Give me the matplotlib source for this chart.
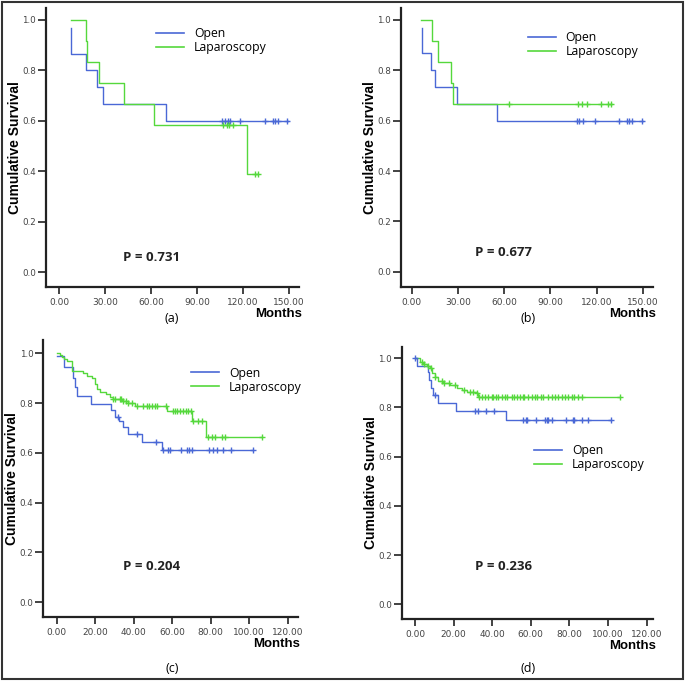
import numpy as np
import matplotlib
matplotlib.use("Agg")
import matplotlib.pyplot as plt
from matplotlib.patches import Rectangle

W, H = 685, 681

# ---------------------------------------------------------------------------
# Kaplan-Meier curves (step times / survival levels)
# ---------------------------------------------------------------------------
# (a)
a_open_t = [7.8, 7.8, 17.6, 24.6, 28.4, 69.6, 149.0]
a_open_s = [0.967, 0.867, 0.800, 0.733, 0.667, 0.600, 0.600]
a_open_c = [106.3, 108.3, 110.0, 111.5, 118.3, 134.6, 139.6, 141.1, 142.6, 148.9]
a_lap_t = [7.6, 17.6, 18.3, 26.1, 42.6, 62.2, 122.4, 130.0]
a_lap_s = [1.0, 0.917, 0.833, 0.750, 0.667, 0.583, 0.389, 0.389]
a_lap_c = [106.7, 109.3, 110.9, 113.3, 127.5, 129.5]

# (b)
b_open_t = [6.5, 6.5, 12.3, 15.2, 29.7, 55.2, 150.0]
b_open_s = [0.967, 0.867, 0.800, 0.733, 0.667, 0.600, 0.600]
b_open_c = [107.1, 108.9, 111.0, 118.8, 134.8, 139.6, 141.3, 142.9, 149.4]
b_lap_t = [6.1, 13.2, 17.3, 25.5, 26.6, 130.3]
b_lap_s = [1.0, 0.917, 0.833, 0.750, 0.667, 0.667]
b_lap_c = [63.2, 108.2, 110.4, 113.6, 122.7, 127.7, 129.2]

# (c)
c_open_t = [0.3, 3.9, 8.3, 9.5, 10.5, 17.6, 28.0, 30.2, 32.3, 34.5, 37.2, 44.2, 54.9, 102.2]
c_open_s = [0.990, 0.944, 0.900, 0.865, 0.828, 0.796, 0.772, 0.742, 0.729, 0.703, 0.676,
            0.645, 0.611, 0.611]
c_open_c = [32.0, 41.6, 51.4, 55.4, 58.0, 58.9, 64.4, 67.9, 68.7, 70.1, 79.3, 81.4, 83.1,
            86.2, 90.6, 102.2]
c_lap_t = [0.3, 1.7, 2.6, 4.0, 5.2, 7.8, 13.5, 15.9, 18.2, 19.9, 21.1, 22.5, 25.6, 27.7,
           29.1, 33.7, 37.2, 40.7, 57.1, 70.1, 77.4, 106.5]
c_lap_s = [1.0, 0.993, 0.987, 0.977, 0.968, 0.930, 0.920, 0.910, 0.901, 0.877, 0.857, 0.843,
           0.836, 0.826, 0.816, 0.810, 0.799, 0.790, 0.769, 0.729, 0.662, 0.662]
c_lap_c = [29.4, 30.3, 32.9, 33.4, 34.6, 36.0, 37.2, 38.9, 41.9, 45.0, 46.8, 48.0, 49.4,
           51.1, 52.3, 56.8, 60.3, 61.5, 62.7, 64.1, 65.5, 67.0, 68.4, 69.6, 71.0, 73.6,
           75.3, 78.8, 80.5, 82.3, 85.7, 87.4, 106.5]

# (d)
d_open_t = [0.0, 0.9, 6.9, 7.4, 8.1, 9.5, 11.7, 21.2, 47.0, 101.4]
d_open_s = [1.0, 0.969, 0.946, 0.912, 0.878, 0.851, 0.817, 0.786, 0.747, 0.747]
d_open_c = [0.2, 10.4, 31.1, 32.8, 36.8, 41.1, 56.1, 57.3, 57.9, 62.7, 67.4, 68.2, 69.1,
            71.2, 78.2, 81.7, 82.4, 86.4, 89.8, 101.4]
d_lap_t = [0.0, 2.6, 4.3, 6.0, 7.8, 8.6, 10.4, 12.1, 14.3, 18.1, 21.6, 24.2, 26.8, 29.4,
           32.0, 32.8, 106.2]
d_lap_s = [1.0, 0.986, 0.977, 0.969, 0.959, 0.939, 0.923, 0.909, 0.901, 0.892, 0.878,
           0.871, 0.864, 0.862, 0.858, 0.844, 0.844]
d_lap_c = [3.5, 4.7, 6.9, 8.3, 10.4, 13.8, 15.0, 17.8, 20.7, 25.4, 28.5, 30.2, 32.3, 33.3,
           34.5, 36.3, 38.0, 39.7, 40.6, 42.0, 43.2, 44.9, 46.6, 47.5, 50.1, 51.3, 52.7,
           54.4, 56.1, 56.6, 58.7, 60.4, 62.2, 63.0, 65.1, 66.5, 69.1, 70.8, 72.5, 74.3,
           76.0, 77.7, 79.4, 81.2, 82.4, 84.6, 86.4, 106.2]

p_values = ["P = 0.731", "P = 0.677", "P = 0.204", "P = 0.236"]
panel_names = ["(a)", "(b)", "(c)", "(d)"]
groups = ["Open", "Laparoscopy"]

BLUE = "#4a68d6"
GREEN = "#55d83c"


def px(x, y):
    """pixel position -> figure fraction"""
    return x / W, 1 - y / H


def km_curve(ax, t, s, cens, color):
    ax.step(t, s, where="post", color=color, lw=1.0, zorder=3)
    # censor ticks sit on the curve level at that time
    idx = np.searchsorted(t, cens, side="right") - 1
    idx = np.clip(idx, 0, len(s) - 1)
    ax.plot(cens, np.asarray(s)[idx], ls="none", marker="+", ms=5, mew=1.0,
            color=color, zorder=4)


fig = plt.figure(figsize=(W / 100, H / 100), dpi=100)

# panel boxes in pixels: left, top, right, bottom, xlim, ylim
panels = [
    dict(box=(45.7, 8, 299, 287), xlim=(-8.7, 156.5), ylim=(-0.0595, 1.0476),
         xticks=np.arange(0, 151, 30),
         curves=[(a_open_t, a_open_s, a_open_c), (a_lap_t, a_lap_s, a_lap_c)],
         leg=(150, 21), ptxt=(123, 257), lab=(172, 318), mon=(302, 314)),
    dict(box=(401, 8, 652.7, 286.7), xlim=(-7, 156.5), ylim=(-0.0595, 1.0476),
         xticks=np.arange(0, 151, 30),
         curves=[(b_open_t, b_open_s, b_open_c), (b_lap_t, b_lap_s, b_lap_c)],
         leg=(521.5, 25), ptxt=(475, 252), lab=(528, 318), mon=(656, 314)),
    dict(box=(43.3, 340, 298.3, 616.7), xlim=(-7, 125.5), ylim=(-0.059, 1.0535),
         xticks=np.arange(0, 121, 20),
         curves=[(c_open_t, c_open_s, c_open_c), (c_lap_t, c_lap_s, c_lap_c)],
         leg=(185, 360.5), ptxt=(123, 566), lab=(172, 668), mon=(300, 644)),
    dict(box=(401.7, 346.7, 652.7, 619), xlim=(-6.9, 123.2), ylim=(-0.06, 1.047),
         xticks=np.arange(0, 121, 20),
         curves=[(d_open_t, d_open_s, d_open_c), (d_lap_t, d_lap_s, d_lap_c)],
         leg=(528, 438), ptxt=(475, 566), lab=(528, 668), mon=(656, 646)),
]

for i, p in enumerate(panels):
    l, t, r, b = p["box"]
    ax = fig.add_axes([l / W, 1 - b / H, (r - l) / W, (b - t) / H])
    handles = []
    for (tt, ss, cc), col in zip(p["curves"], [BLUE, GREEN]):
        km_curve(ax, tt, ss, cc, col)
        handles.append(plt.Line2D([], [], color=col, lw=1.2))
    ax.set_xlim(*p["xlim"])
    ax.set_ylim(*p["ylim"])
    for side in ["top", "right"]:
        ax.spines[side].set_visible(False)
    for side in ["left", "bottom"]:
        ax.spines[side].set_linewidth(1.6)
        ax.spines[side].set_color("#222222")
    ax.set_xticks(p["xticks"])
    ax.set_xticklabels(["%.2f" % v for v in p["xticks"]])
    ax.set_yticks(np.arange(0, 1.01, 0.2))
    ax.set_yticklabels(["%.1f" % v for v in np.arange(0, 1.01, 0.2)])
    ax.tick_params(axis="x", length=5, width=1.2, color="#222222", labelsize=6.5,
                   labelcolor="#444444", pad=3)
    ax.tick_params(axis="y", length=6, width=1.2, color="#222222", labelsize=6.3,
                   labelcolor="#444444", pad=1)
    ax.set_ylabel("Cumulative Survival", fontsize=10, fontweight="bold",
                  family="Liberation Sans")
    ax.yaxis.set_label_coords(-24 / (r - l), 0.5)

    lx, ly = px(*p["leg"])
    ax.legend(handles, groups, loc="upper left", bbox_to_anchor=(lx, ly),
              bbox_transform=fig.transFigure, frameon=False,
              prop={"family": "Open Sans", "size": 8.8}, borderpad=0,
              handlelength=2.3, handletextpad=0.8, labelspacing=0.08)

    fig.text(*px(*p["ptxt"]), p_values[i], fontsize=9.5, fontweight="bold",
             family="Open Sans", color="#222222", va="center", ha="left")
    fig.text(*px(*p["mon"]), "Months", fontsize=9.5, fontweight="bold",
             family="Liberation Sans", ha="right", va="center")
    fig.text(*px(*p["lab"]), panel_names[i], fontsize=9, family="Open Sans",
             ha="center", va="center")

# outer frame
fig.patches.append(Rectangle((2 / W, 2 / H), 1 - 4 / W, 1 - 4 / H, transform=fig.transFigure,
                             fill=False, edgecolor="#333333", lw=1.5))

fig.savefig("out.png", dpi=100)
